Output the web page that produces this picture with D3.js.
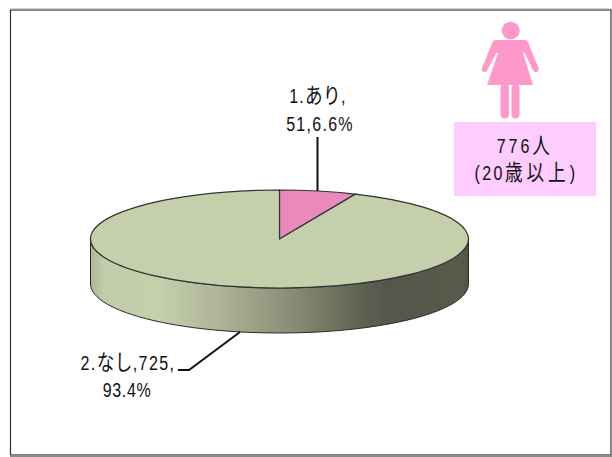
<!DOCTYPE html>
<html><head><meta charset="utf-8">
<style>html,body{margin:0;padding:0;background:#fff}svg{display:block}
text{font-family:"Liberation Sans","Noto Sans CJK JP",sans-serif;fill:#111;text-anchor:middle;font-size:20px}
tspan.cjk{font-size:22px}</style>
<script src="https://cdnjs.cloudflare.com/ajax/libs/d3/7.8.5/d3.min.js"></script>
</head><body><svg id="c" width="612" height="457"></svg>
<script>
const categories = ["1.あり", "2.なし"];
const counts = [51, 725];
const percents = ["6.6%", "93.4%"];
const totalLabel = "776人";
const ageLabel = "(20歳以上)";

const svg = d3.select("#c");
const cx = 279.5, cy = 239, rx = 189, ry = 49, depth = 45;
const colors = ["#ea8abc", "#c5cfac"];

svg.append("rect").attr("x",10.5).attr("y",10).attr("width",600.5).attr("height",445)
  .attr("fill","#fff").attr("stroke","#333").attr("stroke-width",1.2);
svg.append("line").attr("x1",10).attr("x2",612).attr("y1",456).attr("y2",456).attr("stroke","#8a8a8a").attr("stroke-width",2);
svg.append("line").attr("x1",10).attr("x2",612).attr("y1",9).attr("y2",9).attr("stroke","#aaa").attr("stroke-width",1);

const defs = svg.append("defs");
const grad = defs.append("linearGradient").attr("id","wall");
[[0,"#aeb594"],[0.035,"#c2ccaa"],[0.18,"#c5cfac"],[0.325,"#b0b79a"],[0.5,"#8f957c"],[0.7,"#626553"],[0.785,"#53564a"],[0.98,"#585b4b"],[1,"#4f5244"]]
 .forEach(([o,c])=>grad.append("stop").attr("offset",o).attr("stop-color",c));

const pie = d3.pie().sort(null).value(d=>d);
const arcs = pie(counts);
const arc = d3.arc().innerRadius(0).outerRadius(1);
const sx = d3.scaleLinear().domain([-1,1]).range([cx-rx,cx+rx]);
const sy = d3.scaleLinear().domain([-1,1]).range([cy-ry,cy+ry]);

const a = d3.range(0,181,3).map(t=>t*Math.PI/180);
const wall = d3.path();
wall.moveTo(sx(1),sy(0));
a.forEach(t=>wall.lineTo(sx(Math.cos(t)),sy(Math.sin(t))));
[...a].reverse().forEach(t=>wall.lineTo(sx(Math.cos(t)),sy(Math.sin(t))+depth));
wall.closePath();
svg.append("path").attr("d",wall.toString()).attr("fill","url(#wall)").attr("stroke","#2a2c22").attr("stroke-width",1);

svg.append("g").attr("transform",`translate(${cx},${cy}) scale(${rx},${ry})`)
 .selectAll("path").data(arcs).join("path")
 .attr("d",arc).attr("fill",(d,i)=>colors[i])
 .attr("stroke","#333").attr("stroke-width",1.2).attr("vector-effect","non-scaling-stroke");

const leader = d3.line();
svg.append("path").attr("d",leader([[317.5,137],[317.5,191]])).attr("fill","none").attr("stroke","#111").attr("stroke-width",2);
svg.append("path").attr("d",leader([[178,370],[189,370],[240,332]])).attr("fill","none").attr("stroke","#111").attr("stroke-width",2);

const isCjk = c=>/[\u3040-\u30ff\u4e00-\u9fff]/.test(c);
function lab(s,x,y,ls,cls){
  const t = svg.append("text").attr("transform",`translate(${x},${y}) scale(0.8,1)`);
  const runs = s.match(/[\u3040-\u30ff\u4e00-\u9fff]+|[^\u3040-\u30ff\u4e00-\u9fff]+/g);
  runs.forEach(r=>t.append("tspan").attr("class",isCjk(r[0])?"cjk":null)
    .style("letter-spacing",(isCjk(r[0])?cls:ls)+"px").text(r));
}
lab(`${categories[0]},`,318,103,1.6,0.5);
lab(`${counts[0]},${percents[0]}`,320,131,1.6,1);
lab(`${categories[1]},${counts[1]},`,128,370,1.8,0.5);
lab(percents[1],127,397,0.8,1);

const fig = svg.append("g").attr("fill","#ff99cc");
fig.append("ellipse").attr("cx",510.7).attr("cy",30.5).attr("rx",9).attr("ry",8.8);
fig.append("path").attr("d","M496,40 H525 Q527,40 528,42 L538.5,68 Q539.5,71 537,72 Q534.5,73 533,70 L524.5,52.5 L523,53 L533,85 H487 L498,53 L496.5,52.5 L487.5,70 Q486,73 483.5,72 Q481,71 482,68 L492.5,42 Q493.5,40 496,40 Z");
fig.append("rect").attr("x",500.5).attr("y",84).attr("width",8.5).attr("height",34.5).attr("rx",4.2);
fig.append("rect").attr("x",511.5).attr("y",84).attr("width",8).attr("height",34.5).attr("rx",4);

svg.append("rect").attr("x",454).attr("y",122).attr("width",142).attr("height",74).attr("fill","#ffccff");
lab(totalLabel,524.5,153,3.6,3);
lab(ageLabel,526,180,3,5);
</script></body></html>
